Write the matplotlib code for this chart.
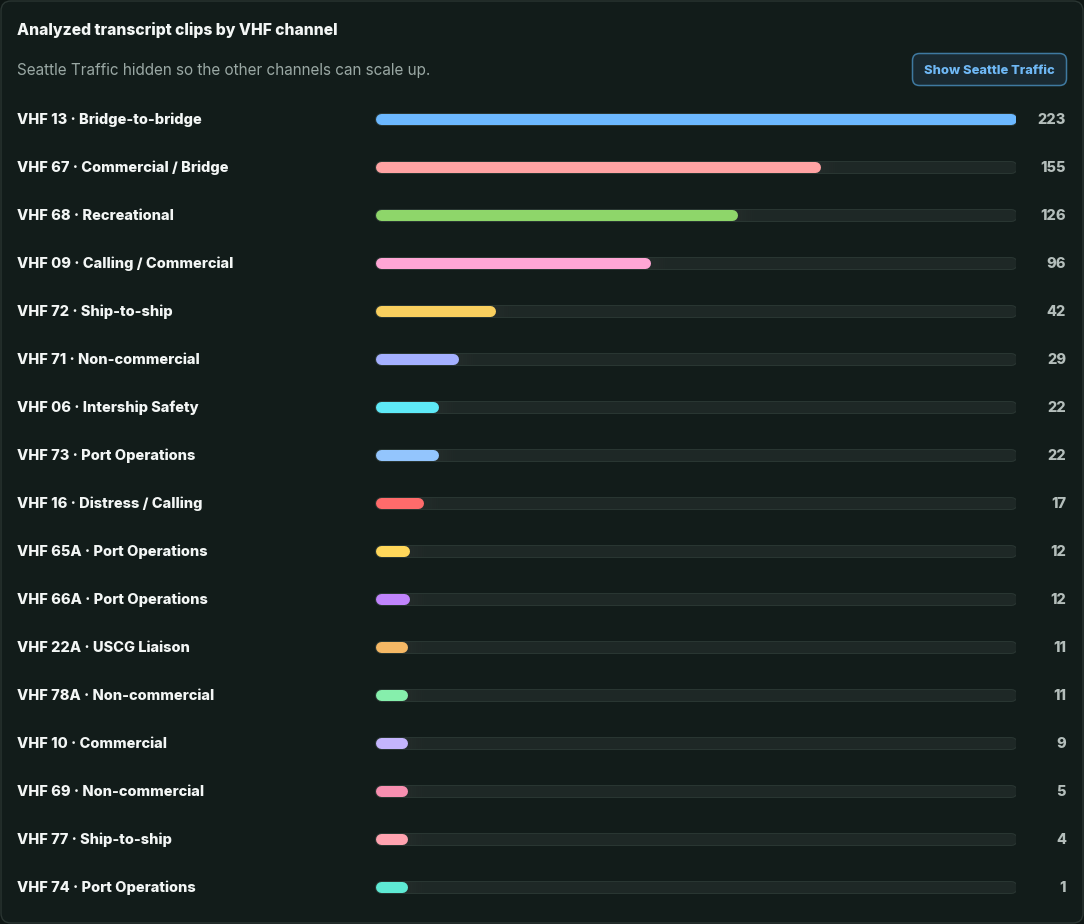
import matplotlib
matplotlib.use("Agg")
import matplotlib.pyplot as plt
from matplotlib.patches import FancyBboxPatch
from matplotlib.transforms import blended_transform_factory

plt.rcParams["font.family"] = ["Inter", "DejaVu Sans"]

channels = [
    "VHF 13 · Bridge-to-bridge",
    "VHF 67 · Commercial / Bridge",
    "VHF 68 · Recreational",
    "VHF 09 · Calling / Commercial",
    "VHF 72 · Ship-to-ship",
    "VHF 71 · Non-commercial",
    "VHF 06 · Intership Safety",
    "VHF 73 · Port Operations",
    "VHF 16 · Distress / Calling",
    "VHF 65A · Port Operations",
    "VHF 66A · Port Operations",
    "VHF 22A · USCG Liaison",
    "VHF 78A · Non-commercial",
    "VHF 10 · Commercial",
    "VHF 69 · Non-commercial",
    "VHF 77 · Ship-to-ship",
    "VHF 74 · Port Operations",
]
counts = [223, 155, 126, 96, 42, 29, 22, 22, 17, 12, 12, 11, 11, 9, 5, 4, 1]
colors = [
    "#6cb8ff", "#ffa3a3", "#8ed66a", "#ffa6d5", "#f9cf5e", "#a4b0ff",
    "#5eeaf7", "#93c5fd", "#ff6b6b", "#ffd75a", "#c084fc", "#f5b865",
    "#86efac", "#c4b5fd", "#f78fb0", "#ffa3b0", "#5eead4",
]

W, H, DPI = 1084, 924, 100
BG = "#121c1a"
TRACK = "#1e2826"
TRACK_EDGE = "#2a3733"

fig = plt.figure(figsize=(W / DPI, H / DPI), dpi=DPI, facecolor="#0e1614")

# background / card layer in pixel coordinates
bg = fig.add_axes([0, 0, 1, 1])
bg.set_xlim(0, W)
bg.set_ylim(H, 0)
bg.axis("off")
bg.add_patch(FancyBboxPatch((1, 1), W - 2, H - 2, boxstyle="round,pad=0,rounding_size=10",
                            facecolor=BG, edgecolor="#2a3532", linewidth=1))

bg.text(17, 30, "Analyzed transcript clips by VHF channel", fontsize=11.3,
        fontweight="heavy", color="#f3f6f5", va="center", ha="left")
bg.text(17, 71, "Seattle Traffic hidden so the other channels can scale up.",
        fontsize=11.0, color="#9aa8a4", va="center", ha="left")

# toggle button
bg.add_patch(FancyBboxPatch((912.5, 53.5), 154, 32, boxstyle="round,pad=0,rounding_size=7",
                            facecolor="#1a2a32", edgecolor="#3f79a0", linewidth=1.1))
bg.text(989.5, 71, "Show Seattle Traffic", fontsize=9.3, fontweight="heavy",
        color="#6fb8f5", va="center", ha="center")

# bar layer
x0_px, x1_px = 375, 1016
top_px, row_px = 118, 48
n = len(counts)
ax_top = top_px - row_px / 2
ax_bot = top_px + row_px * (n - 1) + row_px / 2
ax = fig.add_axes([x0_px / W, (H - ax_bot) / H, (x1_px - x0_px) / W, (ax_bot - ax_top) / H])
ax.set_facecolor("none")
ax.axis("off")
vmax = max(counts)
ax.set_xlim(0, vmax)
ax.set_ylim(n - 0.5, -0.5)

px = vmax / (x1_px - x0_px)       # data units per pixel
bar_h = 11                        # bar thickness in pixels
lw = bar_h * 72 / DPI
cap = bar_h / 2 * px
text_dy = 2 / row_px              # nudge text down by ~2px

lab_tr = blended_transform_factory(fig.transFigure, ax.transData)

for i, (name, v, c) in enumerate(zip(channels, counts, colors)):
    yb = i + 0.5 / row_px
    # track with a thin edge
    ax.plot([cap, vmax - cap], [yb, yb], color=TRACK_EDGE, lw=lw + 1.4,
            solid_capstyle="round", zorder=1)
    ax.plot([cap, vmax - cap], [yb, yb], color=TRACK, lw=lw,
            solid_capstyle="round", zorder=2)
    w = max(v, 0.05 * vmax)
    # soft glow just past the end of the fill
    if w < vmax - 3:
        for k in range(12):
            a = 0.22 * (1 - k / 12)
            ax.plot([w - cap + k * 2 * px, w - cap + (k + 1) * 2 * px], [yb, yb],
                    color="#3b3d3c", lw=lw, alpha=a, solid_capstyle="butt", zorder=3)
    ax.plot([cap, w - cap], [yb, yb], color=c, lw=lw, solid_capstyle="round", zorder=4)

    ax.text(17 / W, i + text_dy, name, transform=lab_tr, fontsize=10.5, fontweight="heavy",
            color="#f3f6f5", va="center", ha="left")
    ax.text(1066 / W, i + text_dy, str(v), transform=lab_tr, fontsize=10.5,
            fontweight="heavy", color="#b4bebb", va="center", ha="right")

fig.savefig("out.png", dpi=DPI, facecolor=fig.get_facecolor())
